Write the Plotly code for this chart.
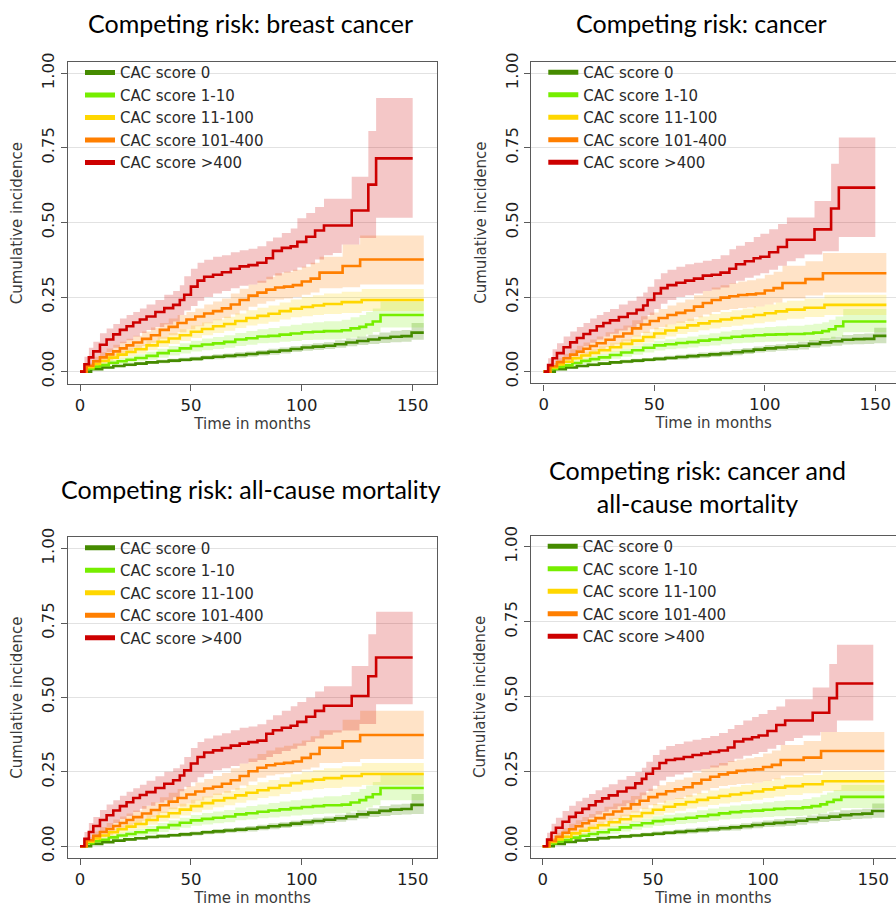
import plotly.graph_objects as go

# ---------------------------------------------------------------------------
# Groups, colours, panel titles
# ---------------------------------------------------------------------------
GROUPS = ["CAC score 0", "CAC score 1-10", "CAC score 11-100",
          "CAC score 101-400", "CAC score >400"]
LINE_COLORS = ["#458B00", "#76EE00", "#FFD700", "#FF7F00", "#CD0000"]
BAND_COLORS = ["rgba(69,139,0,0.25)", "rgba(118,238,0,0.20)",
               "rgba(255,215,0,0.22)", "rgba(255,127,0,0.22)",
               "rgba(205,0,0,0.22)"]
TITLES = ["Competing risk: breast cancer", "Competing risk: cancer",
          "Competing risk: all-cause mortality",
          "Competing risk: cancer and<br>all-cause mortality"]
X_TICKS = [0, 50, 100, 150]
Y_TICKS = [0, 0.25, 0.5, 0.75, 1.0]

# ---------------------------------------------------------------------------
# Step times (months) per CAC group
# ---------------------------------------------------------------------------
T_CAC0 = [0, 5, 10, 15, 20, 25, 30, 35, 40, 45, 50, 55, 60, 65, 70, 75, 80,
          85, 90, 95, 100, 105, 110, 115, 120, 125, 130, 135, 140, 145, 149.5, 155]
T_CAC1_10 = [0, 3, 6, 9, 13, 17, 21, 25, 30, 35, 40, 45, 50, 55, 60, 65, 70,
             75, 80, 85, 90, 95, 100, 105, 110, 118, 122, 126, 129, 132, 135.5, 155]
T_CAC11_100 = [0, 3, 6, 9, 13, 17, 21, 25, 30, 35, 40, 45, 50, 55, 60, 65, 70,
               75, 80, 85, 90, 95, 100, 105, 110, 118, 127, 155]
T_CAC101_400 = [0, 3, 6, 9, 12, 15, 18, 21, 24, 28, 32, 36, 40, 44, 48, 52, 56,
                60, 64, 68, 72, 76, 80, 84, 88, 92, 96, 100, 104, 108, 118.4,
                126.3, 155]
T_CAC400 = [0, 2, 4, 6, 9, 12, 15, 18, 21, 24, 27, 30, 34, 38, 42, 45, 47, 50,
            53, 56, 60, 64, 68, 72, 76, 80, 84, 87, 91, 95, 98, 102, 106, 110,
            114, 118, 122.5, 126, 130, 133.5, 150]

# ---------------------------------------------------------------------------
# Panel 1: competing risk breast cancer (estimate, lower, upper)
# ---------------------------------------------------------------------------
BC_CAC0 = [0, .008, .014, .019, .023, .027, .031, .034, .037, .04, .043, .047, .05, .053, .056, .059, .063, .067, .071, .076, .081, .084, .087, .092, .098, .103, .108, .113, .117, .119, .131, .131]
BC_CAC0_LO = [0, .006, .011, .015, .018, .022, .026, .028, .031, .033, .036, .04, .042, .045, .047, .05, .054, .057, .061, .066, .07, .073, .076, .08, .085, .089, .093, .096, .099, .1, .107, .107]
BC_CAC0_HI = [0, .01, .017, .023, .028, .032, .036, .04, .043, .047, .05, .054, .058, .061, .065, .068, .072, .077, .081, .086, .092, .095, .099, .105, .111, .118, .124, .131, .137, .14, .163, .163]
BC_CAC1_10 = [0, .01, .017, .022, .03, .035, .04, .046, .053, .062, .07, .078, .086, .091, .095, .1, .108, .112, .118, .12, .124, .128, .132, .134, .136, .139, .145, .15, .158, .168, .19, .19]
BC_CAC1_10_LO = [0, .006, .011, .016, .022, .026, .03, .035, .04, .047, .054, .061, .068, .072, .076, .08, .086, .09, .095, .097, .1, .103, .106, .107, .108, .11, .114, .118, .125, .133, .148, .148]
BC_CAC1_10_HI = [0, .014, .022, .029, .038, .045, .051, .058, .067, .077, .086, .095, .104, .111, .116, .122, .13, .136, .142, .146, .152, .157, .162, .166, .169, .174, .182, .19, .2, .212, .235, .235]
BC_CAC11_100 = [0, .015, .026, .036, .047, .057, .066, .075, .088, .1, .111, .122, .134, .143, .152, .16, .17, .18, .187, .194, .203, .211, .217, .222, .227, .233, .24, .24]
BC_CAC11_100_LO = [0, .01, .018, .026, .036, .044, .052, .06, .072, .083, .093, .103, .113, .122, .13, .137, .146, .155, .161, .167, .175, .182, .186, .19, .193, .197, .203, .203]
BC_CAC11_100_HI = [0, .02, .034, .046, .058, .07, .08, .09, .104, .117, .13, .142, .155, .165, .175, .184, .195, .206, .214, .222, .232, .242, .25, .256, .262, .268, .277, .277]
BC_CAC101_400 = [0, .02, .035, .048, .058, .068, .078, .088, .098, .11, .122, .14, .15, .163, .175, .185, .195, .203, .212, .225, .24, .255, .265, .275, .282, .285, .29, .302, .312, .332, .354, .376, .376]
BC_CAC101_400_LO = [0, .01, .02, .03, .038, .048, .058, .066, .075, .086, .097, .11, .122, .132, .142, .152, .162, .172, .18, .192, .205, .218, .228, .236, .242, .245, .25, .258, .265, .28, .283, .292, .292]
BC_CAC101_400_HI = [0, .03, .05, .065, .078, .09, .1, .11, .12, .135, .148, .163, .178, .19, .2, .212, .225, .235, .245, .262, .278, .292, .305, .318, .33, .335, .342, .352, .365, .385, .426, .456, .456]
BC_CAC400 = [0, .025, .048, .068, .09, .108, .125, .14, .152, .165, .175, .185, .2, .213, .224, .24, .258, .285, .305, .318, .325, .333, .345, .353, .357, .365, .38, .405, .415, .42, .435, .452, .473, .49, .49, .49, .54, .54, .627, .715, .715]
BC_CAC400_LO = [0, .005, .015, .03, .05, .065, .08, .095, .105, .118, .13, .14, .15, .158, .168, .19, .205, .22, .238, .25, .262, .27, .28, .288, .292, .298, .31, .322, .332, .338, .349, .36, .376, .39, .398, .426, .426, .448, .448, .516, .516]
BC_CAC400_HI = [0, .05, .08, .1, .129, .145, .16, .178, .19, .2, .212, .225, .24, .258, .27, .29, .32, .345, .365, .375, .385, .39, .40, .407, .412, .42, .437, .45, .465, .48, .514, .532, .552, .58, .58, .58, .653, .653, .807, .917, .917]

# ---------------------------------------------------------------------------
# Panel 2: competing risk cancer
# ---------------------------------------------------------------------------
CA_CAC0 = [0, .008, .014, .019, .023, .027, .031, .034, .037, .04, .043, .046, .049, .052, .055, .058, .061, .065, .069, .074, .078, .081, .084, .087, .093, .098, .102, .107, .109, .11, .12, .12]
CA_CAC0_LO = [0, .006, .011, .015, .018, .022, .026, .028, .031, .034, .036, .039, .041, .044, .046, .049, .052, .055, .059, .064, .067, .07, .072, .074, .08, .084, .087, .091, .092, .093, .095, .095]
CA_CAC0_HI = [0, .01, .017, .023, .028, .032, .036, .04, .043, .046, .05, .053, .057, .06, .064, .067, .07, .075, .079, .084, .089, .092, .096, .1, .106, .112, .117, .123, .126, .128, .147, .147]
CA_CAC1_10 = [0, .009, .016, .021, .029, .036, .042, .048, .056, .064, .072, .08, .088, .092, .096, .099, .104, .108, .113, .117, .12, .122, .124, .125, .126, .128, .131, .136, .142, .152, .168, .168]
CA_CAC1_10_LO = [0, .005, .01, .014, .02, .026, .031, .036, .043, .05, .057, .064, .071, .075, .078, .081, .085, .088, .092, .095, .097, .099, .1, .101, .101, .102, .104, .107, .11, .118, .132, .132]
CA_CAC1_10_HI = [0, .013, .021, .028, .037, .045, .052, .059, .068, .077, .086, .095, .104, .109, .114, .118, .124, .129, .135, .14, .144, .147, .15, .152, .154, .157, .161, .166, .174, .185, .21, .21]
CA_CAC11_100 = [0, .014, .024, .033, .045, .054, .063, .072, .082, .093, .104, .116, .128, .138, .147, .155, .162, .169, .175, .18, .185, .19, .196, .202, .208, .214, .224, .224]
CA_CAC11_100_LO = [0, .009, .017, .024, .035, .043, .051, .059, .067, .077, .087, .098, .109, .118, .126, .133, .139, .145, .15, .154, .158, .162, .167, .172, .177, .183, .19, .19]
CA_CAC11_100_HI = [0, .019, .031, .042, .055, .065, .075, .085, .097, .109, .121, .134, .147, .158, .168, .177, .185, .193, .2, .206, .212, .218, .225, .232, .238, .245, .258, .258]
CA_CAC101_400 = [0, .018, .032, .045, .057, .067, .077, .086, .095, .107, .118, .128, .145, .158, .17, .18, .19, .197, .205, .218, .23, .24, .248, .253, .257, .259, .262, .272, .28, .297, .31, .33, .33]
CA_CAC101_400_LO = [0, .01, .02, .03, .04, .048, .056, .064, .072, .083, .092, .102, .118, .13, .142, .15, .158, .164, .17, .182, .192, .2, .207, .21, .213, .215, .218, .225, .232, .245, .255, .265, .265]
CA_CAC101_400_HI = [0, .028, .045, .06, .075, .087, .098, .108, .118, .132, .144, .155, .172, .186, .198, .21, .222, .232, .242, .256, .27, .282, .29, .296, .302, .306, .312, .325, .335, .355, .37, .398, .398]
CA_CAC400 = [0, .022, .045, .062, .082, .098, .113, .126, .138, .152, .163, .172, .183, .195, .207, .222, .24, .262, .28, .29, .298, .305, .312, .322, .325, .332, .345, .36, .37, .38, .385, .4, .418, .442, .442, .442, .477, .477, .547, .617, .617]
CA_CAC400_LO = [0, .005, .015, .028, .045, .06, .073, .085, .097, .108, .118, .127, .138, .148, .16, .175, .19, .21, .228, .24, .25, .256, .262, .27, .275, .282, .295, .305, .315, .322, .33, .342, .355, .37, .38, .393, .393, .404, .404, .451, .451]
CA_CAC400_HI = [0, .045, .075, .095, .118, .135, .15, .163, .178, .19, .2, .21, .225, .238, .252, .265, .285, .31, .33, .342, .352, .36, .365, .372, .378, .39, .41, .422, .435, .451, .462, .477, .495, .517, .517, .517, .572, .572, .697, .785, .785]

# ---------------------------------------------------------------------------
# Panel 3: competing risk all-cause mortality
# ---------------------------------------------------------------------------
ACM_CAC0 = [0, .008, .014, .019, .023, .027, .031, .034, .037, .04, .043, .047, .05, .053, .056, .059, .063, .067, .071, .076, .081, .085, .089, .094, .1, .107, .113, .119, .123, .125, .139, .139]
ACM_CAC0_LO = [0, .006, .011, .015, .018, .022, .026, .028, .031, .033, .036, .04, .042, .045, .047, .05, .054, .057, .061, .066, .07, .074, .078, .082, .087, .093, .098, .102, .105, .107, .108, .108]
ACM_CAC0_HI = [0, .01, .017, .023, .028, .032, .036, .04, .043, .047, .05, .054, .058, .061, .065, .068, .072, .077, .081, .086, .092, .096, .1, .106, .113, .121, .128, .135, .14, .143, .176, .176]
ACM_CAC1_10 = [0, .01, .017, .022, .03, .036, .041, .047, .054, .063, .071, .079, .087, .092, .096, .1, .107, .111, .116, .12, .124, .128, .132, .135, .138, .14, .147, .155, .165, .175, .196, .196]
ACM_CAC1_10_LO = [0, .006, .011, .016, .022, .026, .03, .035, .04, .048, .055, .062, .069, .073, .077, .081, .087, .09, .094, .097, .1, .103, .106, .108, .11, .111, .117, .122, .13, .138, .155, .155]
ACM_CAC1_10_HI = [0, .014, .022, .029, .038, .045, .052, .059, .068, .078, .087, .096, .105, .112, .117, .122, .13, .135, .14, .145, .15, .155, .16, .164, .168, .172, .182, .192, .204, .216, .242, .242]
ACM_CAC11_100 = [0, .015, .026, .036, .047, .057, .066, .075, .088, .1, .111, .123, .135, .145, .154, .162, .171, .18, .188, .196, .204, .212, .219, .224, .229, .236, .243, .243]
ACM_CAC11_100_LO = [0, .01, .018, .026, .036, .044, .052, .06, .072, .083, .093, .103, .114, .123, .131, .138, .146, .155, .162, .168, .176, .183, .188, .192, .196, .2, .206, .206]
ACM_CAC11_100_HI = [0, .02, .034, .046, .058, .07, .08, .09, .104, .117, .13, .143, .156, .167, .177, .186, .196, .206, .215, .223, .232, .242, .25, .256, .262, .269, .28, .28]
ACM_CAC101_400 = [0, .02, .035, .048, .058, .068, .078, .088, .098, .11, .122, .138, .15, .162, .174, .184, .194, .2, .21, .222, .236, .252, .264, .272, .277, .28, .285, .297, .31, .331, .353, .374, .374]
ACM_CAC101_400_LO = [0, .01, .02, .03, .038, .048, .058, .066, .075, .086, .097, .112, .124, .134, .144, .154, .164, .172, .18, .19, .204, .218, .23, .238, .242, .245, .25, .258, .265, .28, .283, .293, .293]
ACM_CAC101_400_HI = [0, .03, .05, .065, .078, .09, .1, .11, .12, .135, .148, .165, .18, .192, .202, .214, .226, .236, .246, .262, .278, .295, .31, .322, .332, .338, .345, .355, .37, .39, .425, .455, .455]
ACM_CAC400 = [0, .025, .048, .068, .088, .104, .12, .135, .148, .162, .172, .182, .196, .21, .222, .238, .255, .278, .3, .315, .322, .33, .338, .345, .35, .355, .378, .39, .398, .405, .418, .435, .455, .472, .472, .472, .505, .505, .571, .634, .634]
ACM_CAC400_LO = [0, .005, .015, .03, .048, .063, .078, .092, .102, .115, .126, .136, .147, .155, .165, .185, .2, .215, .232, .244, .255, .262, .27, .278, .283, .29, .3, .31, .32, .328, .338, .35, .362, .375, .382, .389, .389, .411, .411, .477, .477]
ACM_CAC400_HI = [0, .048, .078, .098, .122, .14, .155, .17, .183, .195, .207, .22, .235, .25, .262, .275, .3, .33, .35, .362, .372, .38, .39, .398, .402, .41, .425, .44, .455, .47, .485, .5, .52, .538, .538, .538, .606, .606, .712, .788, .788]

# ---------------------------------------------------------------------------
# Panel 4: competing risk cancer and all-cause mortality
# ---------------------------------------------------------------------------
CACM_CAC0 = [0, .008, .014, .019, .023, .027, .03, .033, .036, .039, .042, .045, .048, .051, .054, .057, .06, .063, .067, .071, .075, .078, .081, .085, .09, .095, .099, .104, .107, .109, .118, .118]
CACM_CAC0_LO = [0, .006, .011, .015, .018, .022, .025, .027, .03, .033, .035, .038, .04, .043, .045, .048, .051, .053, .057, .06, .064, .066, .068, .072, .077, .081, .084, .088, .091, .093, .095, .095]
CACM_CAC0_HI = [0, .01, .017, .023, .028, .032, .035, .039, .042, .045, .049, .052, .056, .059, .063, .066, .069, .073, .077, .082, .086, .09, .094, .098, .103, .109, .114, .12, .123, .125, .143, .143]
CACM_CAC1_10 = [0, .009, .016, .021, .029, .035, .041, .047, .055, .063, .07, .077, .084, .088, .092, .095, .1, .105, .11, .114, .117, .119, .122, .125, .127, .13, .134, .14, .148, .155, .165, .165]
CACM_CAC1_10_LO = [0, .005, .01, .014, .02, .025, .03, .035, .042, .049, .055, .062, .068, .071, .074, .077, .081, .085, .089, .092, .094, .096, .098, .1, .101, .103, .106, .11, .116, .12, .128, .128]
CACM_CAC1_10_HI = [0, .013, .021, .028, .037, .044, .051, .058, .067, .076, .084, .092, .1, .105, .11, .114, .12, .126, .132, .136, .14, .143, .147, .151, .154, .158, .164, .172, .18, .188, .205, .205]
CACM_CAC11_100 = [0, .014, .023, .032, .043, .052, .061, .07, .08, .09, .1, .111, .122, .132, .14, .148, .155, .162, .168, .173, .178, .183, .19, .196, .201, .207, .217, .217]
CACM_CAC11_100_LO = [0, .009, .016, .023, .033, .041, .049, .057, .065, .074, .083, .093, .103, .112, .119, .126, .132, .138, .143, .147, .151, .155, .161, .166, .171, .177, .185, .185]
CACM_CAC11_100_HI = [0, .019, .03, .041, .053, .063, .073, .083, .095, .106, .117, .129, .141, .152, .161, .17, .178, .186, .193, .199, .205, .211, .219, .226, .231, .238, .25, .25]
CACM_CAC101_400 = [0, .018, .032, .045, .057, .067, .077, .085, .094, .106, .116, .126, .14, .152, .164, .174, .184, .19, .197, .21, .222, .232, .24, .246, .252, .255, .257, .265, .272, .288, .296, .318, .318]
CACM_CAC101_400_LO = [0, .01, .02, .03, .04, .048, .056, .064, .072, .082, .091, .1, .113, .125, .137, .145, .153, .158, .165, .176, .186, .195, .201, .205, .208, .21, .212, .218, .224, .236, .243, .255, .255]
CACM_CAC101_400_HI = [0, .028, .045, .06, .075, .087, .098, .108, .118, .132, .143, .154, .168, .18, .192, .204, .215, .222, .23, .245, .258, .27, .278, .285, .29, .294, .298, .31, .32, .338, .352, .382, .382]
CACM_CAC400 = [0, .022, .045, .062, .082, .098, .112, .125, .137, .15, .16, .17, .183, .195, .21, .225, .242, .26, .278, .288, .292, .298, .305, .31, .315, .32, .33, .35, .358, .364, .37, .385, .405, .42, .42, .42, .446, .446, .495, .544, .544]
CACM_CAC400_LO = [0, .005, .015, .028, .045, .06, .072, .083, .095, .106, .115, .124, .134, .144, .156, .17, .185, .202, .22, .232, .24, .246, .252, .258, .263, .27, .282, .292, .302, .308, .315, .326, .338, .352, .362, .37, .37, .382, .382, .42, .42]
CACM_CAC400_HI = [0, .045, .075, .095, .118, .135, .15, .162, .175, .187, .197, .207, .222, .235, .248, .262, .282, .305, .322, .335, .342, .35, .356, .362, .368, .378, .392, .405, .42, .432, .442, .455, .467, .491, .491, .491, .53, .53, .609, .673, .673]

# ---------------------------------------------------------------------------
# Assemble (time, estimate, lower, upper) per group for each panel
# ---------------------------------------------------------------------------
TIMES = [T_CAC0, T_CAC1_10, T_CAC11_100, T_CAC101_400, T_CAC400]
PANELS = [
    [(BC_CAC0, BC_CAC0_LO, BC_CAC0_HI), (BC_CAC1_10, BC_CAC1_10_LO, BC_CAC1_10_HI),
     (BC_CAC11_100, BC_CAC11_100_LO, BC_CAC11_100_HI),
     (BC_CAC101_400, BC_CAC101_400_LO, BC_CAC101_400_HI),
     (BC_CAC400, BC_CAC400_LO, BC_CAC400_HI)],
    [(CA_CAC0, CA_CAC0_LO, CA_CAC0_HI), (CA_CAC1_10, CA_CAC1_10_LO, CA_CAC1_10_HI),
     (CA_CAC11_100, CA_CAC11_100_LO, CA_CAC11_100_HI),
     (CA_CAC101_400, CA_CAC101_400_LO, CA_CAC101_400_HI),
     (CA_CAC400, CA_CAC400_LO, CA_CAC400_HI)],
    [(ACM_CAC0, ACM_CAC0_LO, ACM_CAC0_HI), (ACM_CAC1_10, ACM_CAC1_10_LO, ACM_CAC1_10_HI),
     (ACM_CAC11_100, ACM_CAC11_100_LO, ACM_CAC11_100_HI),
     (ACM_CAC101_400, ACM_CAC101_400_LO, ACM_CAC101_400_HI),
     (ACM_CAC400, ACM_CAC400_LO, ACM_CAC400_HI)],
    [(CACM_CAC0, CACM_CAC0_LO, CACM_CAC0_HI), (CACM_CAC1_10, CACM_CAC1_10_LO, CACM_CAC1_10_HI),
     (CACM_CAC11_100, CACM_CAC11_100_LO, CACM_CAC11_100_HI),
     (CACM_CAC101_400, CACM_CAC101_400_LO, CACM_CAC101_400_HI),
     (CACM_CAC400, CACM_CAC400_LO, CACM_CAC400_HI)],
]
for panel in PANELS:
    for t, (est, lo, hi) in zip(TIMES, panel):
        assert len(t) == len(est) == len(lo) == len(hi), (len(t), len(est), len(lo), len(hi))

# ---------------------------------------------------------------------------
# Page geometry (pixels) of each plotting frame
# ---------------------------------------------------------------------------
W, H = 896, 912
# left, right, top, bottom of the frame, x range, y range, draw right border
FRAMES = [
    (68, 437, 53, 380, [-5.41, 160.96], [-0.0419, 1.0373], True),
    (531.3, 896, 52.7, 379.3, [-5.61, 159.36], [-0.0396, 1.0383], False),
    (68, 437, 535.7, 861, [-5.41, 160.96], [-0.0387, 1.0374], True),
    (530.7, 896, 534, 861, [-5.44, 160.3], [-0.0385, 1.0372], False),
]
TITLE_POS = [(250, 13), (701, 13), (251, 486), (697, 484)]

TICK_FONT = dict(family="DejaVu Sans", size=16.5, color="#1e1e1e")
AXIS_TITLE_FONT = dict(family="DejaVu Sans", size=15, color="#3a3a3a")
LEGEND_FONT = dict(family="DejaVu Sans", size=15, color="#2a2a2a")
FRAME_COLOR = "#5a5a5a"

fig = go.Figure()
layout = dict(
    width=W, height=H,
    margin=dict(l=0, r=0, t=0, b=0),
    paper_bgcolor="white", plot_bgcolor="white",
    annotations=[],
)

for i, (panel, frame) in enumerate(zip(PANELS, FRAMES)):
    x0, x1, y0, y1, xr, yr, right_border = frame
    sfx = "" if i == 0 else str(i + 1)
    xa, ya = "x" + sfx, "y" + sfx
    leg = "legend" + sfx

    # confidence bands
    for g, (t, (est, lo, hi)) in enumerate(zip(TIMES, panel)):
        fig.add_trace(go.Scatter(
            x=t, y=hi, mode="lines", line=dict(width=0, shape="hv"),
            hoverinfo="skip", showlegend=False, xaxis=xa, yaxis=ya))
        fig.add_trace(go.Scatter(
            x=t, y=lo, mode="lines", line=dict(width=0, shape="hv"),
            fill="tonexty", fillcolor=BAND_COLORS[g],
            hoverinfo="skip", showlegend=False, xaxis=xa, yaxis=ya))

    # cumulative incidence curves
    for g, (t, (est, lo, hi)) in enumerate(zip(TIMES, panel)):
        fig.add_trace(go.Scatter(
            x=t, y=est, mode="lines", name=GROUPS[g],
            line=dict(color=LINE_COLORS[g], width=2.6, shape="hv"),
            showlegend=False, xaxis=xa, yaxis=ya))

    # legend keys
    for g in range(len(GROUPS)):
        fig.add_trace(go.Scatter(
            x=[None], y=[None], mode="lines", name=GROUPS[g],
            line=dict(color=LINE_COLORS[g], width=5),
            legend=leg, xaxis=xa, yaxis=ya))

    layout["xaxis" + sfx] = dict(
        domain=[x0 / W, x1 / W], range=xr, anchor=ya,
        tickvals=X_TICKS, ticks="outside", ticklen=6, tickcolor=FRAME_COLOR,
        tickfont=TICK_FONT, showline=True, linecolor=FRAME_COLOR, linewidth=1.4,
        mirror=True, showgrid=False, zeroline=False,
        title=dict(text="Time in months", font=AXIS_TITLE_FONT, standoff=1),
    )
    layout["yaxis" + sfx] = dict(
        domain=[1 - y1 / H, 1 - y0 / H], range=yr, anchor=xa,
        tickvals=Y_TICKS, tickformat=".2f", tickangle=-90,
        ticks="outside", ticklen=6, tickcolor=FRAME_COLOR, tickfont=TICK_FONT,
        showline=True, linecolor=FRAME_COLOR, linewidth=1.4,
        mirror=right_border, showgrid=True, gridcolor="#e2e2e2", gridwidth=1,
        zeroline=False,
        title=dict(text="Cumulative incidence", font=AXIS_TITLE_FONT, standoff=12),
    )
    layout[leg] = dict(
        x=(x0 + 12) / W, y=1 - (y0 - 6) / H, xanchor="left", yanchor="top",
        bgcolor="rgba(0,0,0,0)", font=LEGEND_FONT, tracegroupgap=0,
        itemwidth=30, traceorder="normal",
    )
    tx, ty = TITLE_POS[i]
    layout["annotations"].append(dict(
        text=TITLES[i], x=tx / W, y=1 - ty / H, xref="paper", yref="paper",
        xanchor="center", yanchor="middle", showarrow=False,
        font=dict(family="Lato", size=25, color="black"),
    ))

fig.update_layout(**layout)
fig.write_html("out.html")
